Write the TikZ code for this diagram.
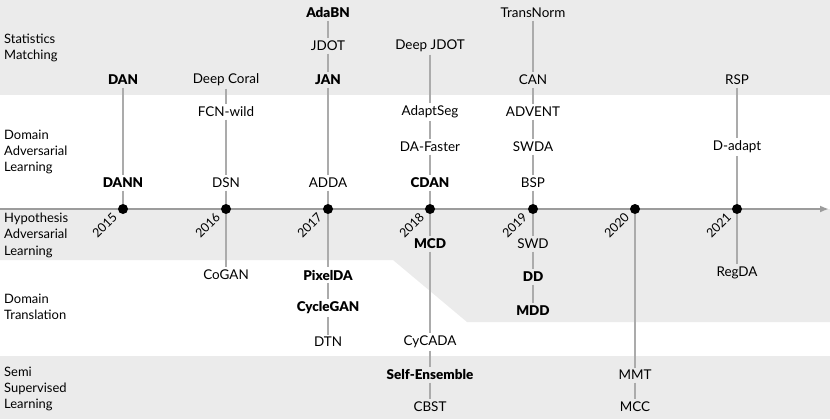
\documentclass[tikz,border=0pt]{standalone}
\usepackage{fontspec}
\setmainfont{Lato}[BoldFont={Lato Black}]
\usetikzlibrary{arrows.meta}
\definecolor{band}{HTML}{EBEBEB}
\definecolor{connc}{HTML}{ABABAB}
\definecolor{axisc}{HTML}{9C9C9C}
\begin{document}
\begin{tikzpicture}[x=1bp,y=-1bp,
  lbl/.style={font=\fontsize{13.5}{15}\selectfont, inner sep=2.5pt},
  blbl/.style={font=\fontsize{13.5}{15}\selectfont\bfseries, inner sep=2.5pt},
  cat/.style={anchor=west, align=left, font=\fontsize{13}{16.5}\selectfont, inner sep=0pt},
  connline/.style={draw=connc, line width=1.3bp},
  yeardot/.style={circle, fill=black, inner sep=0pt, minimum size=10bp},
  yearlbl/.style={rotate=45, anchor=east, font=\fontsize{12.5}{14}\selectfont, inner sep=0pt}]
\useasboundingbox (0,0) rectangle (830,419);
% bands
\fill[band] (0,0) rectangle (830,95);
\fill[band] (0,209) -- (0,260) -- (393,260) -- (467,322) -- (830,322) -- (830,209) -- cycle;
\fill[band] (0,356) rectangle (830,419);
% axis
\coordinate (axstart) at (0,209);
\coordinate (axend) at (829,209);
\draw[axisc, line width=2bp, -{Latex[length=9bp,width=7bp]}] (axstart) -- (axend);
% category labels
\node[cat] (cSM) at (4,48) {Statistics\\Matching};
\node[cat] (cDAL) at (4,152) {Domain\\Adversarial\\Learning};
\node[cat] (cHAL) at (4,235) {Hypothesis\\Adversarial\\Learning};
\node[cat] (cDT) at (4,307) {Domain\\Translation};
\node[cat] (cSSL) at (4,389) {Semi\\Supervised\\Learning};
% year dots and labels
\foreach \yr/\xx in {2015/123,2016/226,2017/328,2018/430,2019/533,2020/635,2021/737}{
  \node[yeardot] (y\yr) at (\xx,209) {};
  \node[yearlbl] (t\yr) at ([shift={(-8,6)}]y\yr.center) {\yr};
}
% 2015
\node[blbl] (DAN) at (123,80) {DAN};
\node[blbl] (DANN) at (123,183) {DANN};
% 2016
\node[lbl] (DeepCoral) at (226,80) {Deep Coral};
\node[lbl] (FCNwild) at (226,112) {FCN-wild};
\node[lbl] (DSN) at (226,183) {DSN};
\node[lbl] (CoGAN) at (226,275) {CoGAN};
% 2017
\node[blbl] (AdaBN) at (328,13) {AdaBN};
\node[lbl] (JDOT) at (328,46) {JDOT};
\node[blbl] (JAN) at (328,80) {JAN};
\node[lbl] (ADDA) at (328,183) {ADDA};
\node[blbl] (PixelDA) at (328,275) {PixelDA};
\node[blbl] (CycleGAN) at (328,308) {CycleGAN};
\node[lbl] (DTN) at (328,342) {DTN};
% 2018
\node[lbl] (DeepJDOT) at (430,46) {Deep JDOT};
\node[lbl] (AdaptSeg) at (430,112) {AdaptSeg};
\node[lbl] (DAFaster) at (430,147) {DA-Faster};
\node[blbl] (CDAN) at (430,183) {CDAN};
\node[blbl] (MCD) at (430,244) {MCD};
\node[lbl] (CyCADA) at (430,342) {CyCADA};
\node[blbl] (SelfEns) at (430,375) {Self-Ensemble};
\node[lbl] (CBST) at (430,407) {CBST};
% 2019
\node[lbl] (TransNorm) at (533,13) {TransNorm};
\node[lbl] (CAN) at (533,80) {CAN};
\node[lbl] (ADVENT) at (533,112) {ADVENT};
\node[lbl] (SWDA) at (533,147) {SWDA};
\node[lbl] (BSP) at (533,183) {BSP};
\node[lbl] (SWD) at (533,244) {SWD};
\node[blbl] (DD) at (533,277) {DD};
\node[blbl] (MDD) at (533,311) {MDD};
% 2020
\node[lbl] (MMT) at (635,375) {MMT};
\node[lbl] (MCC) at (635,407) {MCC};
% 2021
\node[lbl] (RSP) at (737,80) {RSP};
\node[lbl] (Dadapt) at (737,147) {D-adapt};
\node[lbl] (RegDA) at (737,273) {RegDA};
% connectors
\draw[connline] (DAN) -- (DANN);
\draw[connline] (DANN) -- (y2015);
\draw[connline] (DeepCoral) -- (FCNwild);
\draw[connline] (FCNwild) -- (DSN);
\draw[connline] (DSN) -- (y2016);
\draw[connline] (y2016) -- (CoGAN);
\draw[connline] (AdaBN) -- (JDOT);
\draw[connline] (JDOT) -- (JAN);
\draw[connline] (JAN) -- (ADDA);
\draw[connline] (ADDA) -- (y2017);
\draw[connline] (y2017) -- (PixelDA);
\draw[connline] (PixelDA) -- (CycleGAN);
\draw[connline] (CycleGAN) -- (DTN);
\draw[connline] (DeepJDOT) -- (AdaptSeg);
\draw[connline] (AdaptSeg) -- (DAFaster);
\draw[connline] (DAFaster) -- (CDAN);
\draw[connline] (CDAN) -- (y2018);
\draw[connline] (y2018) -- (MCD);
\draw[connline] (MCD) -- (CyCADA);
\draw[connline] (CyCADA) -- (SelfEns);
\draw[connline] (SelfEns) -- (CBST);
\draw[connline] (TransNorm) -- (CAN);
\draw[connline] (CAN) -- (ADVENT);
\draw[connline] (ADVENT) -- (SWDA);
\draw[connline] (SWDA) -- (BSP);
\draw[connline] (BSP) -- (y2019);
\draw[connline] (y2019) -- (SWD);
\draw[connline] (SWD) -- (DD);
\draw[connline] (DD) -- (MDD);
\draw[connline] (y2020) -- (MMT);
\draw[connline] (MMT) -- (MCC);
\draw[connline] (RSP) -- (Dadapt);
\draw[connline] (Dadapt) -- (y2021);
\draw[connline] (y2021) -- (RegDA);
\end{tikzpicture}
\end{document}
